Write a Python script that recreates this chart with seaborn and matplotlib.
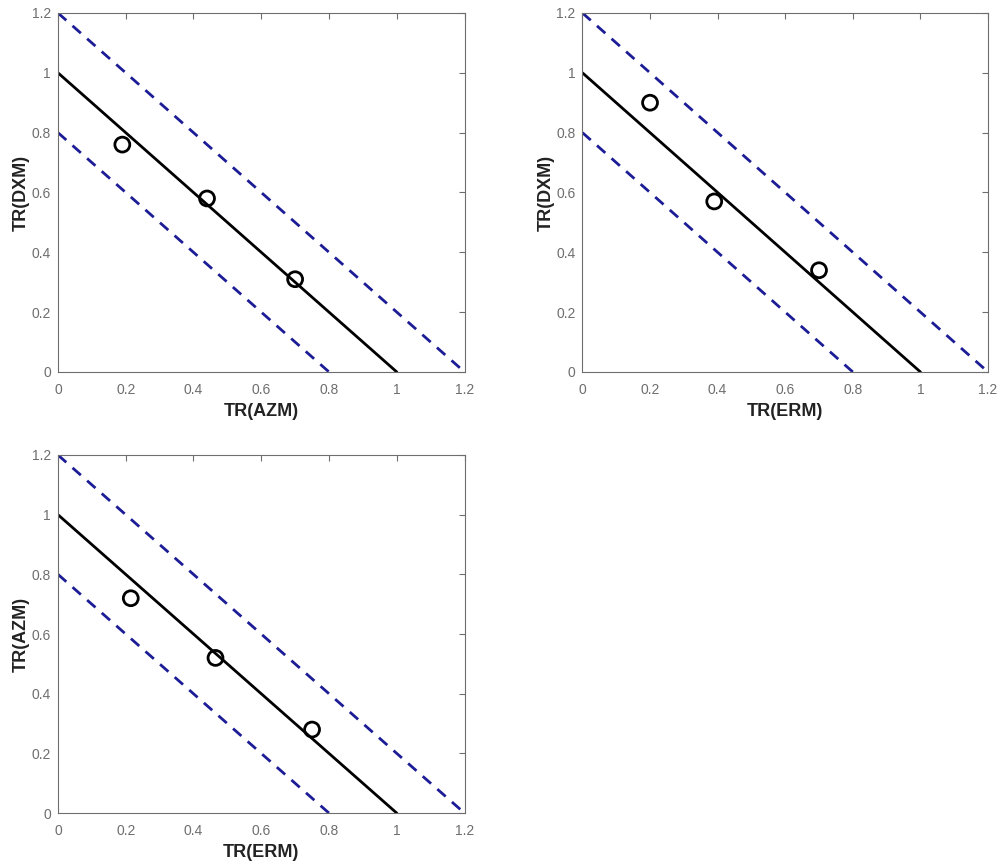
import matplotlib
matplotlib.use("Agg")
import matplotlib.pyplot as plt
import seaborn as sns
import pandas as pd

# Points
azm_dxm_x = [0.19, 0.44, 0.70]
azm_dxm_y = [0.76, 0.58, 0.31]

erm_dxm_x = [0.20, 0.39, 0.70]
erm_dxm_y = [0.90, 0.57, 0.34]

erm_azm_x = [0.215, 0.465, 0.75]
erm_azm_y = [0.72, 0.52, 0.28]

# x + y = c reference lines
line_sum = 1.0
band_sums = [0.8, 1.2]

ticks = [0, 0.2, 0.4, 0.6, 0.8, 1, 1.2]
tick_labels = ["0", "0.2", "0.4", "0.6", "0.8", "1", "1.2"]

panels = [
    ("TR(AZM)", "TR(DXM)", azm_dxm_x, azm_dxm_y, [0.058, 0.570, 0.407, 0.415]),
    ("TR(ERM)", "TR(DXM)", erm_dxm_x, erm_dxm_y, [0.583, 0.570, 0.406, 0.415]),
    ("TR(ERM)", "TR(AZM)", erm_azm_x, erm_azm_y, [0.058, 0.060, 0.407, 0.414]),
]

sns.set_style("white")
plt.rcParams["font.family"] = ["Liberation Sans", "DejaVu Sans"]

fig = plt.figure(figsize=(9.99, 8.65), dpi=100)
axis_gray = "#6e6e6e"
band_color = "#1c1c96"

for xlab, ylab, px, py, pos in panels:
    ax = fig.add_axes(pos)

    for c in band_sums:
        band = pd.DataFrame({"x": [0, c], "y": [c, 0]})
        sns.lineplot(data=band, x="x", y="y", ax=ax, color=band_color,
                     linewidth=2.0, linestyle=(0, (4, 3)), sort=False)

    main = pd.DataFrame({"x": [0, line_sum], "y": [line_sum, 0]})
    sns.lineplot(data=main, x="x", y="y", ax=ax, color="black",
                 linewidth=2.0, sort=False)

    pts = pd.DataFrame({"x": px, "y": py})
    sns.scatterplot(data=pts, x="x", y="y", ax=ax, s=115, marker="o",
                    facecolor="none", edgecolor="black", linewidth=2.0, zorder=5)

    ax.set_xlim(0, 1.2)
    ax.set_ylim(0, 1.2)
    ax.set_xticks(ticks)
    ax.set_xticklabels(tick_labels)
    ax.set_yticks(ticks)
    ax.set_yticklabels(tick_labels)
    ax.tick_params(direction="in", length=4, width=0.8, colors=axis_gray,
                   labelsize=10, top=True, right=True)
    ax.tick_params(axis="x", pad=8)
    ax.tick_params(axis="y", pad=5)
    for spine in ax.spines.values():
        spine.set_color(axis_gray)
        spine.set_linewidth(0.8)
    ax.set_xlabel(xlab, fontsize=13, fontweight="bold", color="#222222", labelpad=4)
    ax.set_ylabel(ylab, fontsize=13, fontweight="bold", color="#222222", labelpad=1)

fig.savefig("out.png", dpi=100)
